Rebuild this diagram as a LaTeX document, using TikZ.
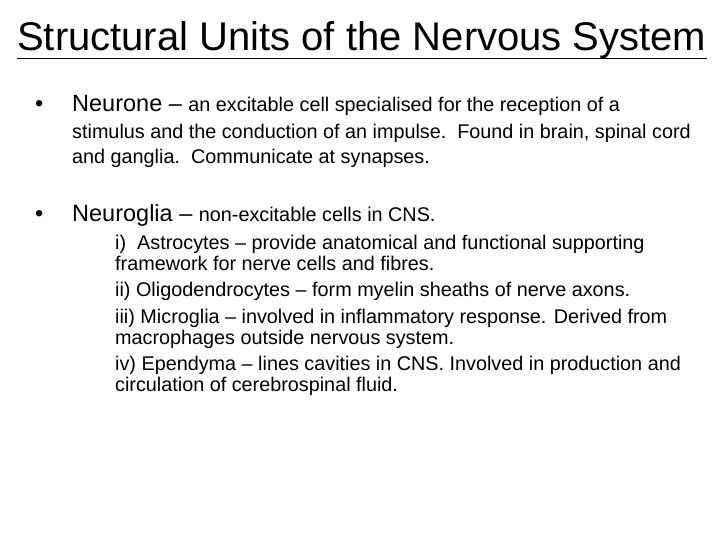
\documentclass[tikz,border=0pt]{standalone}
\usepackage{fontspec}
\setmainfont{Liberation Sans}
\usetikzlibrary{calc}
\begin{document}
\begin{tikzpicture}[x=1pt,y=-1pt,
  t/.style={anchor=base west,inner sep=0pt,font=\fontsize{19.8}{22}\selectfont},
  big/.style={anchor=base west,inner sep=0pt,font=\fontsize{23.5}{28}\selectfont}]
\useasboundingbox (0,0) rectangle (720,540);
\node[anchor=base west,inner sep=0pt,font=\fontsize{40}{44}\selectfont] (title) at (17,51) {Structural Units of the Nervous System};
\draw[line width=1.5pt] ($(title.south west)+(0,-1)$) -- ($(title.south east)+(0,-1)$);
\node[big] (b1) at (35,112) {•};
\node[big] (n1) at (72,112) {Neurone – {\fontsize{19.8}{22}\selectfont an excitable cell specialised for the reception of a}};
\node[t] (l1) at (72,139) {stimulus and the conduction of an impulse.\ \ Found in brain, spinal cord};
\node[t] (l2) at (72,164) {and ganglia.\ \ Communicate at synapses.};
\node[big] (b2) at (35,222) {•};
\node[big] (n2) at (72,222) {Neuroglia – {\fontsize{19.8}{22}\selectfont non-excitable cells in CNS.}};
\node[t] (s1) at (115,249) {i)\ \ Astrocytes – provide anatomical and functional supporting};
\node[t] (s2) at (115,270) {framework for nerve cells and fibres.};
\node[t] (s3) at (115,296) {ii) Oligodendrocytes – form myelin sheaths of nerve axons.};
\node[t] (s4) at (115,323) {iii) Microglia – involved in inflammatory response. Derived from};
\node[t] (s5) at (115,344) {macrophages outside nervous system.};
\node[t] (s6) at (115,370) {iv) Ependyma – lines cavities in CNS. Involved in production and};
\node[t] (s7) at (115,391) {circulation of cerebrospinal fluid.};
\end{tikzpicture}
\end{document}
